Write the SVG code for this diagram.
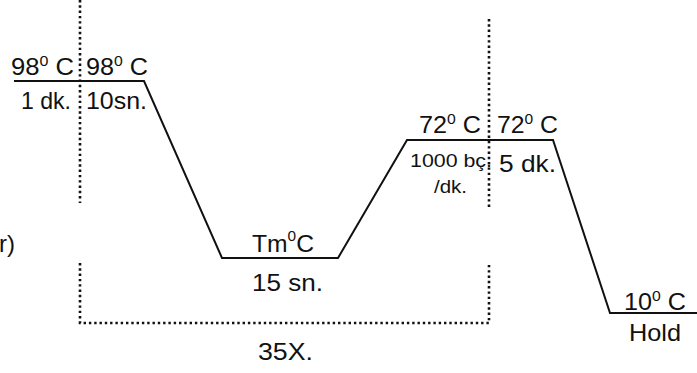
<svg xmlns="http://www.w3.org/2000/svg" width="697" height="373" viewBox="0 0 697 373">
<style>
.t{font-family:"Liberation Sans",Arial,sans-serif;font-size:24px;fill:#111}
.s{font-size:18px}
.sup{font-size:15px}
.prof{fill:none;stroke:#111;stroke-width:2}
.dot{fill:none;stroke:#111;stroke-width:2.6;stroke-dasharray:2.4 2.9}
</style>
<rect width="697" height="373" fill="#fff"/>
<g id="connectors">
<polyline class="prof" points="14,81 144,81 222,258 338,258 407,140 553,140 610,313 697,313"/>
<line class="dot" x1="80" y1="0" x2="80" y2="203"/>
<line class="dot" x1="489" y1="19" x2="489" y2="207"/>
<polyline class="dot" points="80,263 80,323 489,323 489,263"/>
</g>
<g id="denat1">
<text class="t" x="11" y="75" textLength="63" lengthAdjust="spacingAndGlyphs">98<tspan class="sup" dy="-9">0</tspan><tspan dy="9"> C</tspan></text>
<text class="t" x="21" y="109" textLength="50" lengthAdjust="spacingAndGlyphs">1 dk.</text>
</g>
<g id="denat2">
<text class="t" x="86" y="75" textLength="62" lengthAdjust="spacingAndGlyphs">98<tspan class="sup" dy="-9">0</tspan><tspan dy="9"> C</tspan></text>
<text class="t" x="86" y="109" textLength="61" lengthAdjust="spacingAndGlyphs">10sn.</text>
</g>
<g id="anneal">
<text class="t" x="252" y="252" textLength="62" lengthAdjust="spacingAndGlyphs">Tm<tspan class="sup" dy="-11">0</tspan><tspan dy="11">C</tspan></text>
<text class="t" x="252" y="291" textLength="71" lengthAdjust="spacingAndGlyphs">15 sn.</text>
</g>
<g id="ext1">
<text class="t" x="419" y="133" textLength="62" lengthAdjust="spacingAndGlyphs">72<tspan class="sup" dy="-9">0</tspan><tspan dy="9"> C</tspan></text>
<text class="t s" x="410" y="167" textLength="82" lengthAdjust="spacingAndGlyphs">1000 bç.</text>
<text class="t s" x="434" y="193" textLength="33" lengthAdjust="spacingAndGlyphs">/dk.</text>
</g>
<g id="ext2">
<text class="t" x="497" y="133" textLength="61" lengthAdjust="spacingAndGlyphs">72<tspan class="sup" dy="-9">0</tspan><tspan dy="9"> C</tspan></text>
<text class="t" x="499" y="172" textLength="57" lengthAdjust="spacingAndGlyphs">5 dk.</text>
</g>
<g id="hold">
<text class="t" x="624" y="310" textLength="62" lengthAdjust="spacingAndGlyphs">10<tspan class="sup" dy="-9">0</tspan><tspan dy="9"> C</tspan></text>
<text class="t" x="629" y="341" textLength="52" lengthAdjust="spacingAndGlyphs">Hold</text>
</g>
<g id="cycles">
<text class="t" x="258" y="360" textLength="55" lengthAdjust="spacingAndGlyphs">35X.</text>
</g>
<g id="edge">
<text class="t" x="-1" y="252">r)</text>
</g>
</svg>
